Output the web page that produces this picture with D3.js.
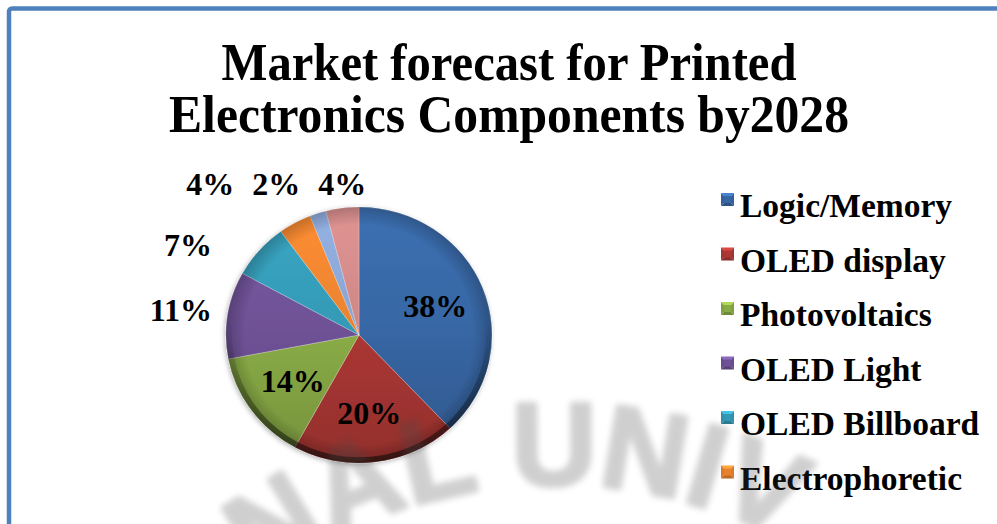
<!DOCTYPE html>
<html>
<head>
<meta charset="utf-8">
<script src="https://cdn.jsdelivr.net/npm/d3@7"></script>
<style>
  html, body { margin: 0; padding: 0; background: #fff; overflow: hidden; }
</style>
</head>
<body>
<svg id="chart" width="997" height="524"></svg>
<script>
// ---- data ----
const categories = ["Logic/Memory", "OLED display", "Photovoltaics", "OLED Light",
                    "OLED Billboard", "Electrophoretic", "Sensors", "Batteries"];
const shares = [38, 20, 14, 11, 7, 4, 2, 4];
const sliceColors = ["#3766a3", "#ab3734", "#89ab46", "#6e5195",
                     "#3499b4", "#e9822f", "#87a3d1", "#cd8786"];
const titleLines = ["Market forecast for Printed", "Electronics Components by2028"];
const watermarkText = "NAL UNIV";

// ---- setup ----
const W = 997, H = 524;
const svg = d3.select("#chart");
const defs = svg.append("defs");
const serif = "'Liberation Serif', 'Times New Roman', serif";

svg.append("rect").attr("width", W).attr("height", H).attr("fill", "#fff");

// outer frame
svg.append("rect")
  .attr("x", 9).attr("y", 8.5)
  .attr("width", W + 20).attr("height", H + 20)
  .attr("rx", 3)
  .attr("fill", "none")
  .attr("stroke", "#4f81bd")
  .attr("stroke-width", 4.5);

// ---- title ----
const titleWidths = [575, 680];
svg.selectAll("text.title")
  .data(titleLines)
  .join("text")
  .attr("class", "title")
  .attr("x", 509)
  .attr("y", (d, i) => 80 + i * 52)
  .attr("text-anchor", "middle")
  .attr("font-family", serif)
  .attr("font-weight", "bold")
  .attr("font-size", 52)
  .attr("textLength", (d, i) => titleWidths[i])
  .attr("lengthAdjust", "spacingAndGlyphs")
  .attr("fill", "#000")
  .text(d => d);

// ---- pie ----
const data = categories.map((c, i) => ({ name: c, v: shares[i], color: sliceColors[i] }));
const cx = 359, cy = 335, rx = 133, ry = 128;
const sy = ry / rx;

const pie = d3.pie().sort(null).value(d => d.v);
const arcs = pie(data);
const arc = d3.arc().innerRadius(0).outerRadius(rx);

// soft shadow around the disc
const shadow = defs.append("filter").attr("id", "pieShadow")
  .attr("x", "-10%").attr("y", "-10%").attr("width", "120%").attr("height", "125%");
shadow.append("feDropShadow")
  .attr("dx", -1).attr("dy", 1.5).attr("stdDeviation", 2.5)
  .attr("flood-color", "#000").attr("flood-opacity", 0.3);

// per-slice vertical shading
data.forEach((d, i) => {
  const base = d3.color(d.color);
  const g = defs.append("linearGradient").attr("id", "slice" + i)
    .attr("gradientUnits", "userSpaceOnUse")
    .attr("x1", 0).attr("y1", -rx).attr("x2", 0).attr("y2", rx);
  g.append("stop").attr("offset", 0).attr("stop-color", base.brighter(0.25));
  g.append("stop").attr("offset", 0.5).attr("stop-color", base);
  g.append("stop").attr("offset", 1).attr("stop-color", base.darker(0.45));
});

const rim = defs.append("radialGradient").attr("id", "rimShade");
rim.append("stop").attr("offset", 0).attr("stop-color", "#000").attr("stop-opacity", 0);
rim.append("stop").attr("offset", 0.86).attr("stop-color", "#000").attr("stop-opacity", 0);
rim.append("stop").attr("offset", 1).attr("stop-color", "#000").attr("stop-opacity", 0.22);

const lowRim = defs.append("linearGradient").attr("id", "lowRim")
  .attr("gradientUnits", "userSpaceOnUse")
  .attr("x1", 0).attr("y1", -rx).attr("x2", 0).attr("y2", rx);
lowRim.append("stop").attr("offset", 0.45).attr("stop-color", "#000").attr("stop-opacity", 0);
lowRim.append("stop").attr("offset", 1).attr("stop-color", "#000").attr("stop-opacity", 0.55);

const pieG = svg.append("g")
  .attr("transform", `translate(${cx},${cy}) scale(1,${sy})`)
  .attr("filter", "url(#pieShadow)");

pieG.selectAll("path.slice")
  .data(arcs)
  .join("path")
  .attr("class", "slice")
  .attr("d", arc)
  .attr("fill", (d, i) => `url(#slice${i})`)
  .attr("stroke", "#ffffff")
  .attr("stroke-opacity", 0.3)
  .attr("stroke-width", 0.8);

pieG.append("circle").attr("r", rx).attr("fill", "url(#rimShade)");
pieG.append("path")
  .attr("d", d3.arc().innerRadius(rx - 6).outerRadius(rx).startAngle(0).endAngle(2 * Math.PI)())
  .attr("fill", "url(#lowRim)");

// ---- value labels ----
const insideMin = 12;
const fontPx = 32;
const labelArc = d3.arc().innerRadius(82).outerRadius(82);

const inside = arcs.filter(a => a.data.v >= insideMin).map(a => {
  const [x, y] = labelArc.centroid(a);
  return { a, x: cx + x, y: cy + y * sy, anchor: "middle" };
});

// outside labels: beside the disc on its flanks, in a row above it at the top,
// with the top row spread apart so the boxes do not touch
const sideGap = 14, rowY = cy - ry - 23, gap = 18;
const outside = arcs.filter(a => a.data.v < insideMin).map(a => {
  const m = (a.startAngle + a.endAngle) / 2;
  const s = Math.sin(m), c = Math.cos(m);
  const w = (String(a.data.v).length + 2) * fontPx * 0.5;
  if (Math.abs(s) > 0.7) {
    return { a, w, side: true,
             x: cx + Math.sign(s) * (rx + sideGap),
             y: cy - ry * c - 5,
             anchor: s < 0 ? "end" : "start" };
  }
  return { a, w, side: false, x: cx + rx * s, y: c > 0 ? rowY : cy + ry + 23, anchor: "middle" };
});
const topRow = outside.filter(d => !d.side).sort((p, q) => q.a.startAngle - p.a.startAngle);
for (let i = 1; i < topRow.length; i++) {
  const prev = topRow[i - 1], cur = topRow[i];
  const need = prev.w / 2 + cur.w / 2 + gap;
  if (prev.x - cur.x < need) cur.x = prev.x - need;
}

svg.selectAll("text.val")
  .data(inside.concat(outside))
  .join("text")
  .attr("class", "val")
  .attr("x", d => d.x)
  .attr("y", d => d.y + fontPx * 0.34)
  .attr("text-anchor", d => d.anchor)
  .attr("font-family", serif)
  .attr("font-weight", "bold")
  .attr("font-size", fontPx)
  .attr("fill", "#000")
  .text(d => d.a.data.v + "%");

// ---- legend ----
const legX = 721, legTop = 193, legStep = 54.5, key = 13;
const legend = svg.append("g");
const rows = legend.selectAll("g.row")
  .data(data.filter((d, i) => legTop + i * legStep + key < H))
  .join("g")
  .attr("class", "row")
  .attr("transform", (d, i) => `translate(${legX},${legTop + i * legStep})`);

const tri = pts => "M" + pts.map(p => p.join(",")).join("L") + "Z";
const kc = key / 2;
rows.append("path").attr("d", tri([[0, 0], [key, 0], [kc, kc]]))
  .attr("fill", d => d3.color(d.color).brighter(0.7));
rows.append("path").attr("d", tri([[key, 0], [key, key], [kc, kc]]))
  .attr("fill", d => d3.color(d.color).darker(0.15));
rows.append("path").attr("d", tri([[0, key], [key, key], [kc, kc]]))
  .attr("fill", d => d3.color(d.color).darker(0.6));
rows.append("path").attr("d", tri([[0, 0], [0, key], [kc, kc]]))
  .attr("fill", d => d3.color(d.color).darker(0.15));
rows.append("rect").attr("x", 3).attr("y", 3).attr("width", key - 6).attr("height", key - 6)
  .attr("fill", d => d.color);

rows.append("text")
  .attr("x", 19)
  .attr("y", 24)
  .attr("font-family", serif)
  .attr("font-weight", "bold")
  .attr("font-size", 33.5)
  .attr("fill", "#000")
  .text(d => d.name);

// ---- faint arched watermark ----
defs.append("filter").attr("id", "wmBlur")
  .attr("x", "-10%").attr("y", "-20%").attr("width", "120%").attr("height", "140%")
  .append("feGaussianBlur").attr("stdDeviation", 3.2);
const wmCx = 556, wmCy = 985, wmR = 500;
defs.append("path").attr("id", "wmArc")
  .attr("d", `M${wmCx - wmR},${wmCy} A${wmR},${wmR} 0 0 1 ${wmCx + wmR},${wmCy}`);
const wmSize = 118;
// offset so that the "U" sits at the crest of the arc
const wmLead = wmSize * (0.722 + 0.722 + 0.611 + 0.278 + 0.361);
svg.append("text")
  .attr("font-family", "'Liberation Sans', Arial, sans-serif")
  .attr("font-weight", "bold")
  .attr("font-size", wmSize)
  .attr("fill", "#4a4a4a")
  .attr("stroke", "#4a4a4a")
  .attr("stroke-width", 4)
  .attr("stroke-linejoin", "round")
  .attr("opacity", 0.26)
  .attr("filter", "url(#wmBlur)")
  .append("textPath")
  .attr("href", "#wmArc")
  .attr("startOffset", Math.PI * wmR / 2 - wmLead)
  .text(watermarkText);
</script>
</body>
</html>
